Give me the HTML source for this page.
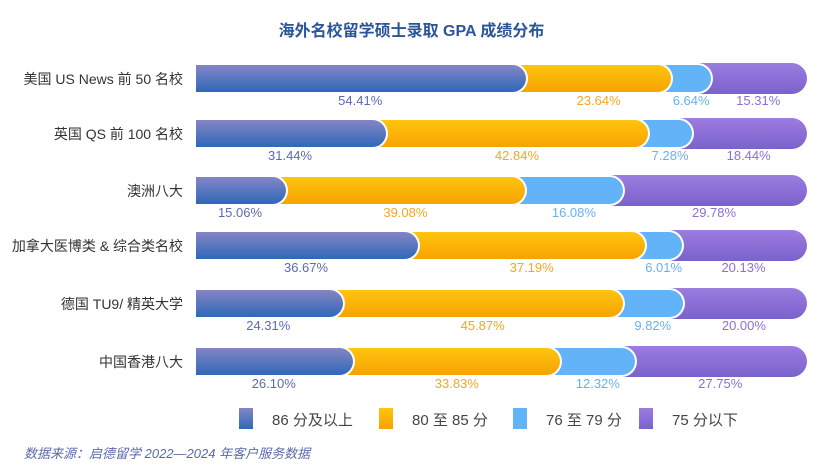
<!DOCTYPE html><html><head><meta charset="utf-8"><style>
body{margin:0;width:823px;height:465px;background:#fff;position:relative;overflow:hidden;font-family:"Liberation Sans","Noto Sans CJK SC",sans-serif}
.t{position:absolute;left:0;width:823px;top:17px;text-align:center;font-size:16px;font-weight:bold;color:#2a5599}
.rl{position:absolute;right:640px;font-size:14px;color:#333;white-space:nowrap}
.s{position:absolute;height:31px;border-radius:0 16px 16px 0;box-sizing:border-box}
.w{border:2px solid #fff;border-left:none}
.b{background:linear-gradient(to bottom,#8585c4,#2f68b8)}
.o{background:linear-gradient(to bottom,#ffc410,#f6a300)}
.l{background:#62b3f7}
.p{background:linear-gradient(to bottom,#9c7ce0,#7a62cc)}
.v{position:absolute;font-size:13px;transform:translateX(-50%);white-space:nowrap}
.lg{position:absolute;top:408px;width:14px;height:21px}
.lt{position:absolute;top:409px;font-size:15px;color:#444;white-space:nowrap}
.f{position:absolute;left:24px;top:443px;font-size:13px;font-style:italic;color:#5a6aa8}
</style></head><body>
<div class="t">海外名校留学硕士录取 GPA 成绩分布</div>
<div id="c"></div>
<div class="lg b" style="left:239px"></div><div class="lt" style="left:272px">86 分及以上</div>
<div class="lg o" style="left:379px"></div><div class="lt" style="left:412px">80 至 85 分</div>
<div class="lg l" style="left:513px"></div><div class="lt" style="left:546px">76 至 79 分</div>
<div class="lg p" style="left:639px"></div><div class="lt" style="left:672px">75 分以下</div>
<div class="f">数据来源：启德留学 2022—2024 年客户服务数据</div>
<script>
var rows=[["美国 US News 前 50 名校",[54.41,23.64,6.64,15.31],63],["英国 QS 前 100 名校",[31.44,42.84,7.28,18.44],118],["澳洲八大",[15.06,39.08,16.08,29.78],175],["加拿大医博类 & 综合类名校",[36.67,37.19,6.01,20.13],230],["德国 TU9/ 精英大学",[24.31,45.87,9.82,20.00],288],["中国香港八大",[26.10,33.83,12.32,27.75],346]];
var cls=["b","o","l","p"],col=["#5b6bb0","#f5a623","#6ab0ef","#8a70d6"];
var X=196,W=611,h="";
rows.forEach(function(r){var y=r[2];h+='<div class="rl" style="top:'+(y+6)+'px">'+r[0]+'</div>';
var c=0,st=[];r[1].forEach(function(v){st.push([c,c+v]);c+=v;});
for(var i=3;i>=0;i--){var e=X+st[i][1]/100*W;if(i==3)e=X+W;h+='<div class="s '+cls[i]+(i<3?' w':'')+'" style="left:'+X+'px;top:'+y+'px;width:'+(e-X)+'px;z-index:'+(10-i)+'"></div>';}
for(var i=0;i<4;i++){var a=X+st[i][0]/100*W,b=X+st[i][1]/100*W;h+='<div class="v" style="left:'+((a+b)/2-2)+'px;top:'+(y+30)+'px;color:'+col[i]+'">'+r[1][i].toFixed(2)+'%</div>';}
});
document.getElementById("c").innerHTML=h;
</script></body></html>
